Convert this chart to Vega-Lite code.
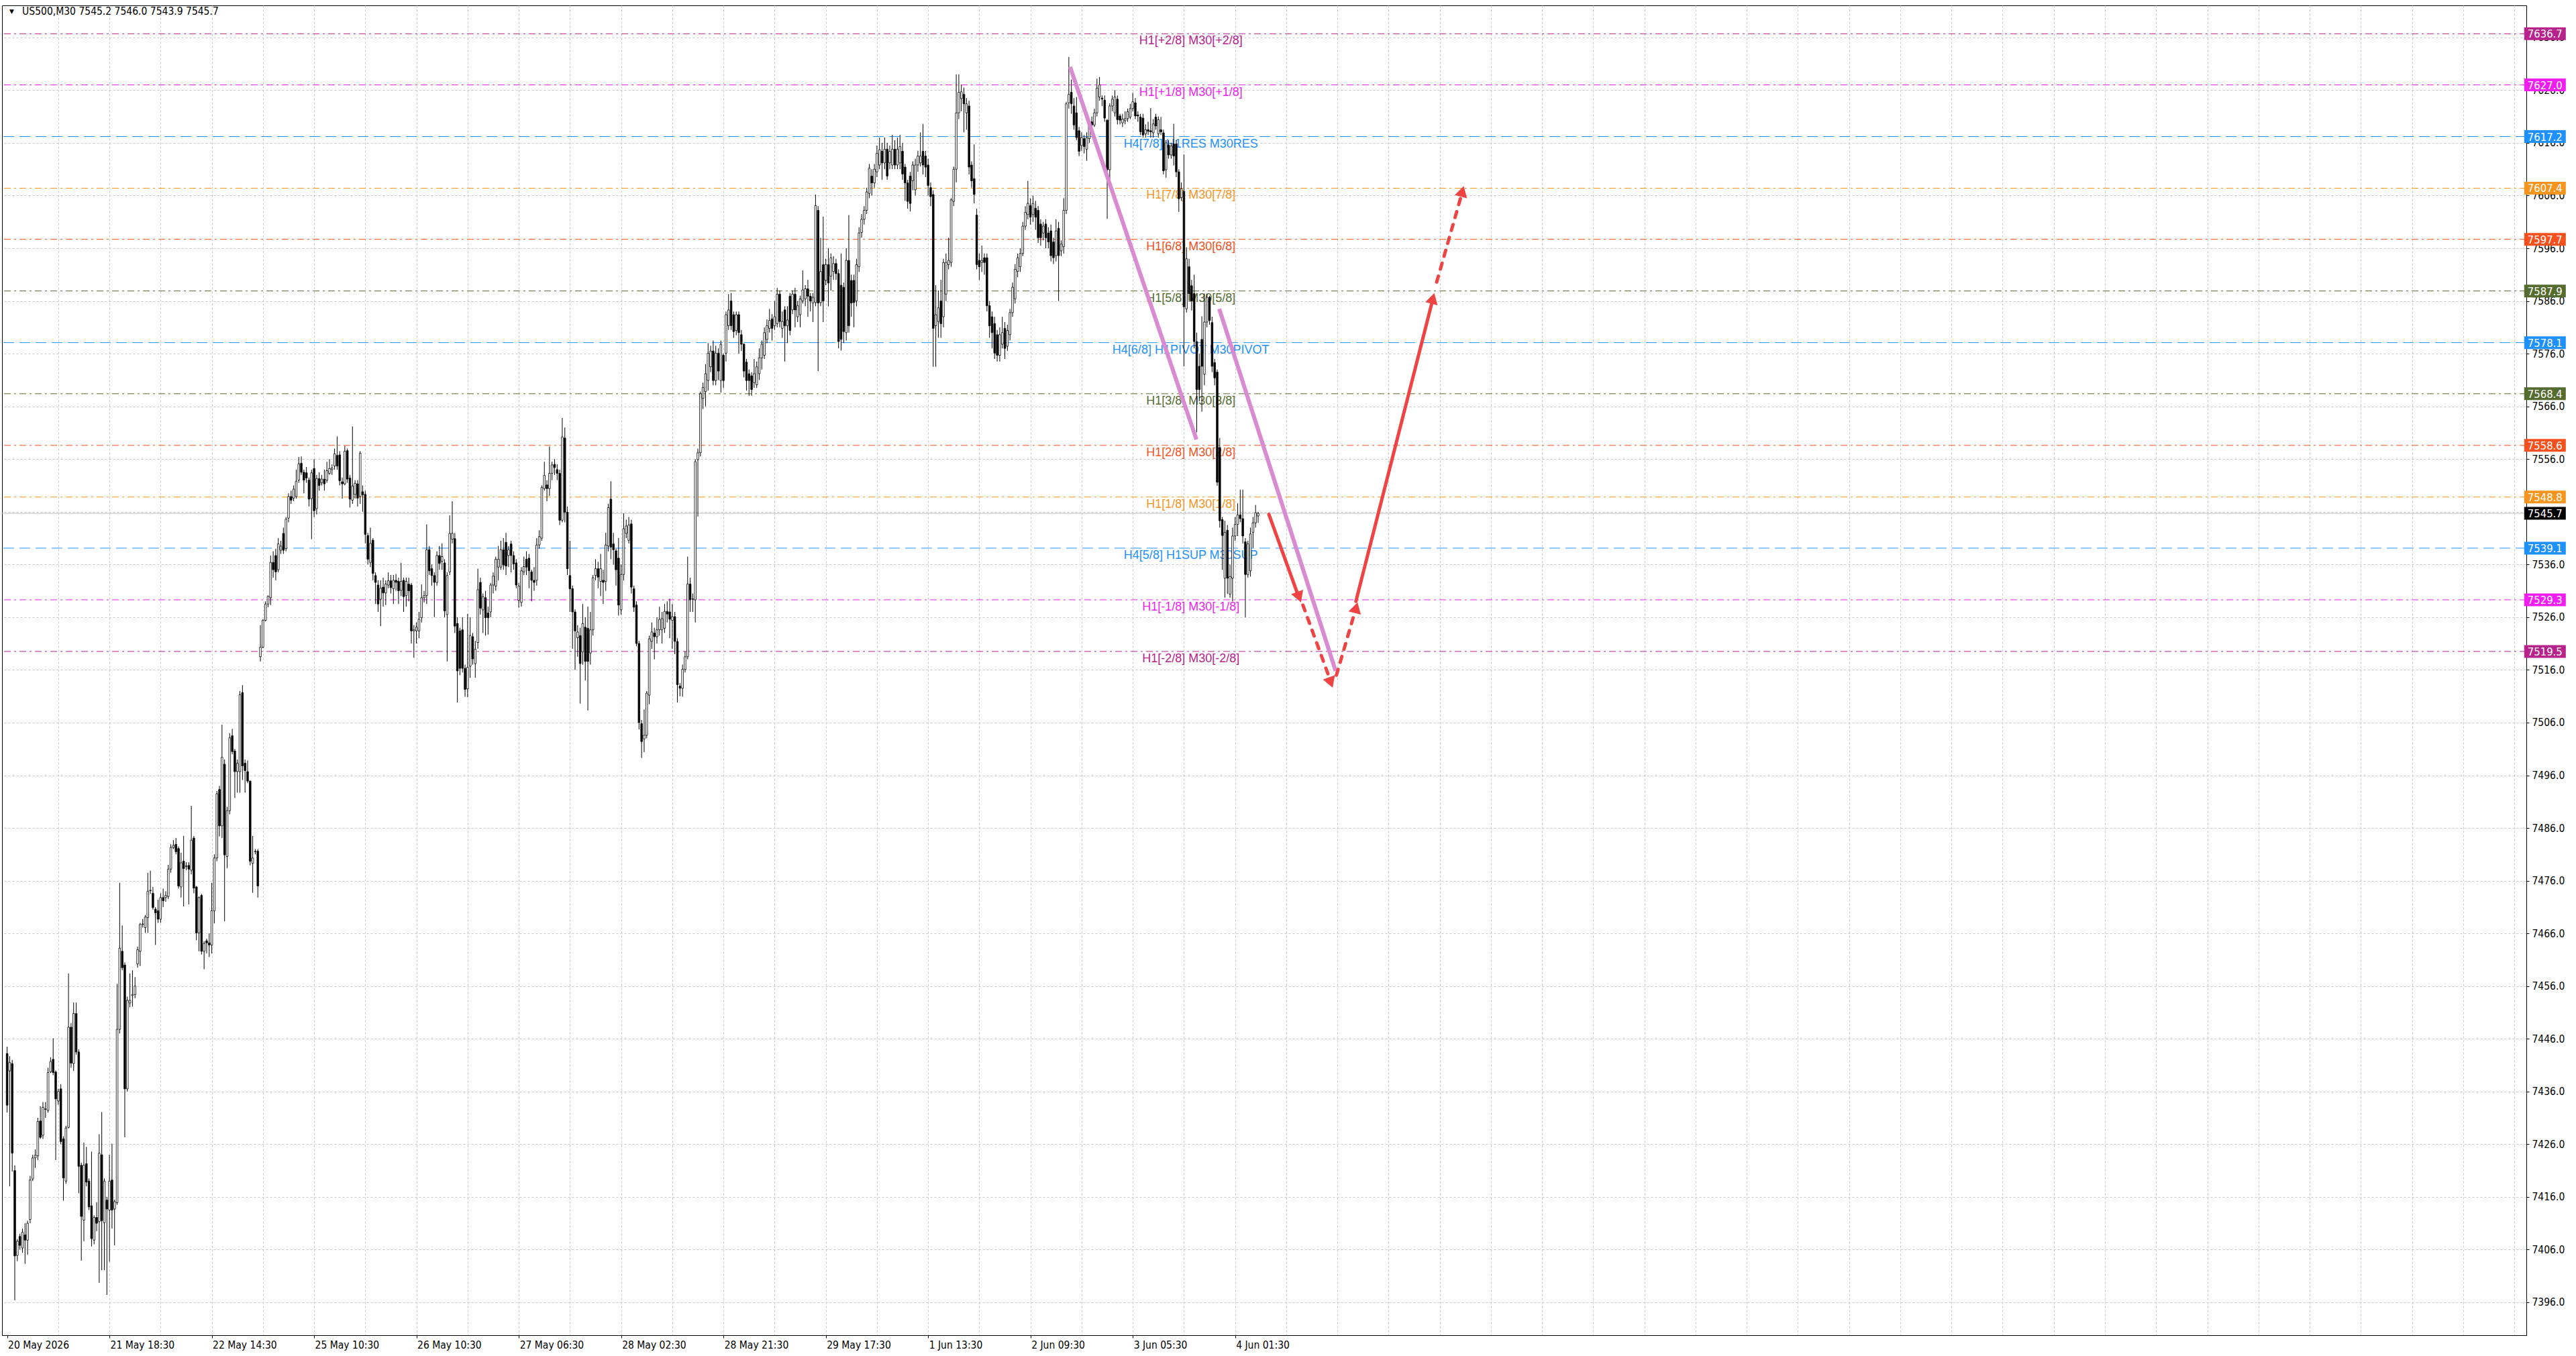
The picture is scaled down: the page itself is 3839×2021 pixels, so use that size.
{
"$schema": "https://vega.github.io/schema/vega-lite/v6.json",
"width": 3762, "height": 1982,
"autosize": {"type": "none"},
"padding": {"left": 3, "top": 8, "right": 74, "bottom": 31},
"background": "#ffffff",
"config": {
 "view": {"stroke": "#000000", "strokeWidth": 1},
 "axis": {"labelFont": "DejaVu Sans Condensed, DejaVu Sans", "labelFontSize": 15.5, "labelColor": "#000000", "domainColor": "#000000", "tickColor": "#000000", "gridColor": "#c8c8c8", "gridDash": [3,3], "gridWidth": 1}
},
"resolve": {"axis": {"x": "independent", "y": "independent"}},
"datasets": {
"levels": [
{"p":7636.7,"g":"p2","t":"H1[+2/8] M30[+2/8]"},
{"p":7627.0,"g":"p1","t":"H1[+1/8] M30[+1/8]"},
{"p":7617.2,"g":"b","t":"H4[7/8] H1RES M30RES"},
{"p":7607.4,"g":"o","t":"H1[7/8] M30[7/8]"},
{"p":7597.7,"g":"r","t":"H1[6/8] M30[6/8]"},
{"p":7587.9,"g":"g","t":"H1[5/8] M30[5/8]"},
{"p":7578.1,"g":"b","t":"H4[6/8] H1PIVOT M30PIVOT"},
{"p":7568.4,"g":"g","t":"H1[3/8] M30[3/8]"},
{"p":7558.6,"g":"r","t":"H1[2/8] M30[2/8]"},
{"p":7548.8,"g":"o","t":"H1[1/8] M30[1/8]"},
{"p":7539.1,"g":"b","t":"H4[5/8] H1SUP M30SUP"},
{"p":7529.3,"g":"p1","t":"H1[-1/8] M30[-1/8]"},
{"p":7519.5,"g":"p2","t":"H1[-2/8] M30[-2/8]"},
{"p":7545.7,"g":"cur","t":""}
],
"pink": [
{"s":"a","i":415.5,"p":7630.4},{"s":"a","i":464.9,"p":7559.7},
{"s":"b","i":473.8,"p":7584.5},{"s":"b","i":519.3,"p":7515.8}
],
"arrows": [
{"s":"a1","k":"solid","i":493.2,"p":7545.5},{"s":"a1","k":"solid","i":504.6,"p":7530.2},
{"s":"a2","k":"dash","i":506.5,"p":7528.3},{"s":"a2","k":"dash","i":517.0,"p":7514.3},
{"s":"a3","k":"dash","i":519.6,"p":7515.0},{"s":"a3","k":"dash","i":526.8,"p":7527.0},
{"s":"a4","k":"solid","i":527.2,"p":7529.0},{"s":"a4","k":"solid","i":557.0,"p":7585.8},
{"s":"a5","k":"dash","i":558.8,"p":7589.6},{"s":"a5","k":"dash","i":568.4,"p":7606.0}
],
"heads": [
{"s":"a1","d":"down","i":505.0,"p":7529.8},
{"s":"a2","d":"down","i":517.4,"p":7513.6},
{"s":"a3","d":"up","i":527.3,"p":7527.8},
{"s":"a4","d":"up","i":557.3,"p":7586.5},
{"s":"a5","d":"up","i":568.8,"p":7606.8}
],
"candles": [
{"i":0,"o":7443.2,"h":7444.5,"l":7432.0,"c":7433.4},
{"i":1,"o":7439.9,"h":7442.7,"l":7418.0,"c":7441.5},
{"i":2,"o":7441.3,"h":7442.0,"l":7420.8,"c":7424.3},
{"i":3,"o":7421.0,"h":7422.0,"l":7396.4,"c":7404.8},
{"i":4,"o":7404.9,"h":7408.0,"l":7403.8,"c":7407.6},
{"i":5,"o":7408.5,"h":7409.0,"l":7406.0,"c":7406.8},
{"i":6,"o":7406.3,"h":7410.0,"l":7405.4,"c":7409.3},
{"i":7,"o":7408.8,"h":7411.0,"l":7403.3,"c":7407.8},
{"i":8,"o":7407.8,"h":7411.5,"l":7405.0,"c":7411.0},
{"i":9,"o":7411.7,"h":7420.0,"l":7411.0,"c":7419.2},
{"i":10,"o":7419.4,"h":7424.0,"l":7419.0,"c":7423.4},
{"i":11,"o":7423.4,"h":7425.0,"l":7421.5,"c":7423.9},
{"i":12,"o":7423.8,"h":7431.0,"l":7423.0,"c":7430.3},
{"i":13,"o":7430.4,"h":7433.2,"l":7427.0,"c":7427.3},
{"i":14,"o":7427.7,"h":7434.0,"l":7427.0,"c":7433.0},
{"i":15,"o":7432.6,"h":7434.0,"l":7431.0,"c":7432.7},
{"i":16,"o":7432.4,"h":7440.5,"l":7432.0,"c":7439.6},
{"i":17,"o":7439.7,"h":7442.5,"l":7439.5,"c":7441.7},
{"i":18,"o":7442.1,"h":7446.1,"l":7439.1,"c":7439.6},
{"i":19,"o":7439.7,"h":7440.0,"l":7423.0,"c":7434.6},
{"i":20,"o":7434.2,"h":7436.5,"l":7433.5,"c":7436.0},
{"i":21,"o":7436.5,"h":7437.4,"l":7426.0,"c":7426.5},
{"i":22,"o":7427.0,"h":7427.5,"l":7415.3,"c":7419.6},
{"i":23,"o":7419.0,"h":7429.5,"l":7418.5,"c":7429.1},
{"i":24,"o":7429.2,"h":7458.4,"l":7429.0,"c":7448.2},
{"i":25,"o":7448.2,"h":7449.0,"l":7440.5,"c":7441.4},
{"i":26,"o":7441.3,"h":7452.9,"l":7439.9,"c":7450.8},
{"i":27,"o":7450.8,"h":7452.9,"l":7443.0,"c":7443.5},
{"i":28,"o":7443.5,"h":7444.0,"l":7416.7,"c":7421.8},
{"i":29,"o":7422.0,"h":7422.5,"l":7403.9,"c":7412.3},
{"i":30,"o":7411.6,"h":7426.3,"l":7407.6,"c":7422.0},
{"i":31,"o":7422.3,"h":7425.5,"l":7418.0,"c":7418.8},
{"i":32,"o":7419.0,"h":7419.5,"l":7413.5,"c":7414.1},
{"i":33,"o":7414.3,"h":7424.6,"l":7406.6,"c":7408.1},
{"i":34,"o":7407.8,"h":7412.5,"l":7407.0,"c":7412.1},
{"i":35,"o":7412.1,"h":7415.0,"l":7409.5,"c":7411.0},
{"i":36,"o":7411.3,"h":7427.9,"l":7399.7,"c":7424.3},
{"i":37,"o":7424.0,"h":7432.1,"l":7402.1,"c":7411.5},
{"i":38,"o":7411.1,"h":7419.5,"l":7402.1,"c":7419.0},
{"i":39,"o":7415.4,"h":7416.0,"l":7397.4,"c":7413.7},
{"i":40,"o":7413.5,"h":7424.0,"l":7403.7,"c":7419.0},
{"i":41,"o":7419.2,"h":7426.1,"l":7410.0,"c":7413.5},
{"i":42,"o":7413.7,"h":7415.5,"l":7406.8,"c":7415.1},
{"i":43,"o":7414.9,"h":7456.4,"l":7414.5,"c":7447.8},
{"i":44,"o":7447.8,"h":7475.6,"l":7447.0,"c":7463.2},
{"i":45,"o":7462.6,"h":7467.5,"l":7459.0,"c":7459.5},
{"i":46,"o":7460.0,"h":7460.5,"l":7427.3,"c":7436.5},
{"i":47,"o":7436.5,"h":7454.0,"l":7436.0,"c":7453.3},
{"i":48,"o":7452.8,"h":7458.4,"l":7452.0,"c":7453.3},
{"i":49,"o":7454.2,"h":7459.0,"l":7452.1,"c":7454.4},
{"i":50,"o":7454.4,"h":7457.7,"l":7453.7,"c":7456.0},
{"i":51,"o":7460.2,"h":7463.5,"l":7459.5,"c":7462.9},
{"i":52,"o":7462.6,"h":7468.0,"l":7459.8,"c":7467.7},
{"i":53,"o":7467.7,"h":7468.7,"l":7467.1,"c":7467.8},
{"i":54,"o":7467.1,"h":7469.5,"l":7466.1,"c":7469.1},
{"i":55,"o":7469.0,"h":7477.5,"l":7466.1,"c":7474.0},
{"i":56,"o":7474.1,"h":7477.9,"l":7473.5,"c":7474.2},
{"i":57,"o":7473.6,"h":7474.8,"l":7470.5,"c":7470.9},
{"i":58,"o":7470.6,"h":7471.0,"l":7463.8,"c":7469.9},
{"i":59,"o":7470.3,"h":7472.4,"l":7468.0,"c":7468.7},
{"i":60,"o":7468.7,"h":7473.6,"l":7468.0,"c":7472.8},
{"i":61,"o":7472.8,"h":7474.5,"l":7471.0,"c":7472.2},
{"i":62,"o":7472.8,"h":7474.0,"l":7472.0,"c":7473.2},
{"i":63,"o":7473.0,"h":7479.0,"l":7472.5,"c":7478.2},
{"i":64,"o":7478.2,"h":7482.9,"l":7477.5,"c":7482.3},
{"i":65,"o":7482.3,"h":7483.7,"l":7482.0,"c":7482.7},
{"i":66,"o":7482.9,"h":7484.1,"l":7481.0,"c":7481.5},
{"i":67,"o":7482.1,"h":7482.5,"l":7474.5,"c":7475.0},
{"i":68,"o":7474.8,"h":7481.3,"l":7472.8,"c":7479.4},
{"i":69,"o":7479.7,"h":7484.5,"l":7471.1,"c":7478.3},
{"i":70,"o":7478.7,"h":7479.5,"l":7478.0,"c":7478.8},
{"i":71,"o":7478.9,"h":7479.5,"l":7471.5,"c":7478.2},
{"i":72,"o":7478.0,"h":7490.2,"l":7477.2,"c":7483.7},
{"i":73,"o":7484.1,"h":7484.5,"l":7473.6,"c":7474.6},
{"i":74,"o":7474.8,"h":7475.0,"l":7464.7,"c":7466.1},
{"i":75,"o":7466.1,"h":7473.0,"l":7462.6,"c":7472.8},
{"i":76,"o":7473.2,"h":7473.5,"l":7462.0,"c":7462.6},
{"i":77,"o":7462.6,"h":7464.5,"l":7459.2,"c":7464.1},
{"i":78,"o":7464.6,"h":7465.0,"l":7462.2,"c":7464.2},
{"i":79,"o":7464.2,"h":7466.0,"l":7461.5,"c":7463.8},
{"i":80,"o":7463.8,"h":7475.6,"l":7462.2,"c":7470.3},
{"i":81,"o":7470.3,"h":7481.0,"l":7467.9,"c":7480.3},
{"i":82,"o":7480.3,"h":7493.0,"l":7479.7,"c":7492.5},
{"i":83,"o":7493.3,"h":7494.0,"l":7484.4,"c":7486.4},
{"i":84,"o":7486.4,"h":7505.6,"l":7484.1,"c":7499.4},
{"i":85,"o":7498.1,"h":7499.0,"l":7468.3,"c":7480.9},
{"i":86,"o":7480.6,"h":7490.0,"l":7478.4,"c":7489.3},
{"i":87,"o":7489.3,"h":7504.0,"l":7488.6,"c":7503.1},
{"i":88,"o":7503.5,"h":7504.8,"l":7500.0,"c":7500.5},
{"i":89,"o":7500.6,"h":7501.0,"l":7491.7,"c":7496.7},
{"i":90,"o":7496.7,"h":7499.0,"l":7492.7,"c":7498.3},
{"i":91,"o":7496.7,"h":7512.0,"l":7492.7,"c":7511.3},
{"i":92,"o":7511.7,"h":7513.1,"l":7495.1,"c":7497.8},
{"i":93,"o":7498.3,"h":7499.0,"l":7492.7,"c":7496.9},
{"i":94,"o":7496.7,"h":7498.8,"l":7494.5,"c":7494.9},
{"i":95,"o":7494.9,"h":7495.0,"l":7478.9,"c":7479.7},
{"i":96,"o":7479.3,"h":7484.5,"l":7473.7,"c":7480.3},
{"i":97,"o":7481.5,"h":7482.0,"l":7481.0,"c":7481.6},
{"i":98,"o":7481.6,"h":7482.0,"l":7472.8,"c":7475.0},
{"i":99,"o":7518.5,"h":7524.5,"l":7517.6,"c":7520.3},
{"i":100,"o":7520.3,"h":7525.6,"l":7520.1,"c":7525.4},
{"i":101,"o":7525.4,"h":7529.0,"l":7525.2,"c":7528.5},
{"i":102,"o":7528.5,"h":7530.1,"l":7527.9,"c":7530.0},
{"i":103,"o":7529.7,"h":7537.7,"l":7528.3,"c":7536.4},
{"i":104,"o":7536.4,"h":7538.5,"l":7533.5,"c":7535.0},
{"i":105,"o":7537.7,"h":7539.0,"l":7533.0,"c":7534.6},
{"i":106,"o":7535.0,"h":7541.0,"l":7534.5,"c":7539.9},
{"i":107,"o":7538.7,"h":7540.5,"l":7538.0,"c":7539.5},
{"i":108,"o":7541.9,"h":7543.0,"l":7538.0,"c":7538.7},
{"i":109,"o":7539.0,"h":7545.0,"l":7538.5,"c":7544.6},
{"i":110,"o":7544.8,"h":7549.5,"l":7544.0,"c":7548.9},
{"i":111,"o":7548.9,"h":7550.0,"l":7547.5,"c":7548.2},
{"i":112,"o":7548.6,"h":7551.0,"l":7548.0,"c":7550.3},
{"i":113,"o":7548.9,"h":7554.0,"l":7548.5,"c":7551.8},
{"i":114,"o":7552.0,"h":7556.4,"l":7551.5,"c":7555.1},
{"i":115,"o":7555.2,"h":7556.5,"l":7553.0,"c":7553.5},
{"i":116,"o":7553.5,"h":7554.0,"l":7549.5,"c":7552.0},
{"i":117,"o":7553.4,"h":7554.5,"l":7551.5,"c":7552.4},
{"i":118,"o":7552.0,"h":7552.5,"l":7547.0,"c":7548.4},
{"i":119,"o":7548.5,"h":7554.0,"l":7540.8,"c":7553.4},
{"i":120,"o":7554.2,"h":7556.0,"l":7545.0,"c":7546.2},
{"i":121,"o":7546.6,"h":7553.0,"l":7545.5,"c":7552.3},
{"i":122,"o":7552.3,"h":7553.5,"l":7550.0,"c":7551.0},
{"i":123,"o":7551.5,"h":7553.0,"l":7551.0,"c":7552.2},
{"i":124,"o":7552.2,"h":7554.0,"l":7550.0,"c":7551.3},
{"i":125,"o":7552.0,"h":7555.5,"l":7551.5,"c":7553.8},
{"i":126,"o":7553.3,"h":7556.0,"l":7553.0,"c":7554.2},
{"i":127,"o":7554.0,"h":7555.0,"l":7553.0,"c":7554.3},
{"i":128,"o":7554.7,"h":7558.0,"l":7554.0,"c":7557.0},
{"i":129,"o":7556.7,"h":7560.3,"l":7554.0,"c":7554.7},
{"i":130,"o":7556.8,"h":7557.5,"l":7551.0,"c":7551.9},
{"i":131,"o":7551.7,"h":7552.5,"l":7548.5,"c":7551.3},
{"i":132,"o":7551.3,"h":7558.5,"l":7551.0,"c":7557.5},
{"i":133,"o":7557.6,"h":7558.0,"l":7551.5,"c":7552.2},
{"i":134,"o":7552.4,"h":7553.0,"l":7546.8,"c":7548.4},
{"i":135,"o":7548.2,"h":7562.2,"l":7547.5,"c":7550.9},
{"i":136,"o":7549.3,"h":7552.0,"l":7548.5,"c":7551.4},
{"i":137,"o":7551.3,"h":7552.0,"l":7547.0,"c":7548.6},
{"i":138,"o":7548.9,"h":7557.5,"l":7547.5,"c":7557.1},
{"i":139,"o":7549.8,"h":7551.0,"l":7546.0,"c":7549.2},
{"i":140,"o":7549.3,"h":7550.0,"l":7540.0,"c":7541.7},
{"i":141,"o":7541.5,"h":7542.0,"l":7536.0,"c":7537.0},
{"i":142,"o":7536.4,"h":7543.0,"l":7535.5,"c":7540.0},
{"i":143,"o":7540.6,"h":7541.0,"l":7533.0,"c":7534.3},
{"i":144,"o":7533.9,"h":7534.5,"l":7528.5,"c":7532.6},
{"i":145,"o":7532.1,"h":7533.0,"l":7527.0,"c":7528.5},
{"i":146,"o":7529.4,"h":7533.0,"l":7524.3,"c":7531.5},
{"i":147,"o":7531.7,"h":7533.5,"l":7528.0,"c":7530.6},
{"i":148,"o":7530.6,"h":7533.0,"l":7528.3,"c":7532.3},
{"i":149,"o":7532.1,"h":7534.5,"l":7531.5,"c":7532.9},
{"i":150,"o":7532.9,"h":7534.0,"l":7530.5,"c":7531.6},
{"i":151,"o":7531.4,"h":7534.0,"l":7528.5,"c":7533.0},
{"i":152,"o":7533.0,"h":7534.2,"l":7531.0,"c":7532.6},
{"i":153,"o":7532.8,"h":7533.5,"l":7528.5,"c":7531.0},
{"i":154,"o":7531.1,"h":7536.3,"l":7530.0,"c":7532.8},
{"i":155,"o":7533.0,"h":7533.5,"l":7527.0,"c":7529.9},
{"i":156,"o":7530.1,"h":7533.5,"l":7528.0,"c":7532.8},
{"i":157,"o":7532.3,"h":7533.5,"l":7529.0,"c":7531.0},
{"i":158,"o":7532.1,"h":7532.5,"l":7521.0,"c":7523.4},
{"i":159,"o":7523.4,"h":7524.5,"l":7518.3,"c":7523.6},
{"i":160,"o":7523.4,"h":7525.0,"l":7521.0,"c":7524.1},
{"i":161,"o":7523.4,"h":7527.0,"l":7522.0,"c":7525.6},
{"i":162,"o":7525.9,"h":7532.2,"l":7525.0,"c":7529.7},
{"i":163,"o":7529.7,"h":7531.0,"l":7528.8,"c":7530.1},
{"i":164,"o":7530.1,"h":7543.6,"l":7528.5,"c":7538.8},
{"i":165,"o":7538.8,"h":7539.5,"l":7534.0,"c":7534.8},
{"i":166,"o":7535.2,"h":7536.0,"l":7532.0,"c":7533.9},
{"i":167,"o":7533.9,"h":7534.5,"l":7526.0,"c":7532.6},
{"i":168,"o":7532.6,"h":7538.5,"l":7532.0,"c":7537.7},
{"i":169,"o":7537.7,"h":7539.5,"l":7535.0,"c":7536.2},
{"i":170,"o":7536.6,"h":7540.0,"l":7535.0,"c":7537.5},
{"i":171,"o":7536.3,"h":7537.0,"l":7526.0,"c":7527.2},
{"i":172,"o":7526.5,"h":7534.5,"l":7517.6,"c":7533.9},
{"i":173,"o":7534.6,"h":7545.3,"l":7534.0,"c":7541.9},
{"i":174,"o":7540.8,"h":7548.0,"l":7540.0,"c":7541.9},
{"i":175,"o":7540.9,"h":7542.0,"l":7523.0,"c":7524.3},
{"i":176,"o":7524.8,"h":7526.0,"l":7509.8,"c":7515.8},
{"i":177,"o":7523.4,"h":7524.0,"l":7515.0,"c":7516.3},
{"i":178,"o":7523.6,"h":7526.0,"l":7515.5,"c":7516.3},
{"i":179,"o":7516.3,"h":7517.0,"l":7510.9,"c":7512.3},
{"i":180,"o":7512.4,"h":7526.6,"l":7510.8,"c":7516.5},
{"i":181,"o":7516.7,"h":7526.0,"l":7514.5,"c":7522.5},
{"i":182,"o":7522.3,"h":7523.0,"l":7517.0,"c":7518.1},
{"i":183,"o":7517.2,"h":7521.5,"l":7514.5,"c":7519.9},
{"i":184,"o":7521.2,"h":7535.2,"l":7520.0,"c":7531.2},
{"i":185,"o":7532.6,"h":7533.5,"l":7526.5,"c":7527.7},
{"i":186,"o":7527.4,"h":7530.5,"l":7523.0,"c":7529.9},
{"i":187,"o":7529.7,"h":7531.0,"l":7522.5,"c":7525.9},
{"i":188,"o":7526.8,"h":7528.0,"l":7522.7,"c":7525.9},
{"i":189,"o":7527.0,"h":7532.5,"l":7526.0,"c":7532.1},
{"i":190,"o":7532.1,"h":7534.5,"l":7530.5,"c":7533.8},
{"i":191,"o":7531.9,"h":7537.5,"l":7531.0,"c":7537.0},
{"i":192,"o":7535.5,"h":7539.5,"l":7533.0,"c":7537.0},
{"i":193,"o":7535.5,"h":7540.5,"l":7535.0,"c":7538.8},
{"i":194,"o":7538.8,"h":7541.0,"l":7535.0,"c":7535.9},
{"i":195,"o":7540.2,"h":7542.0,"l":7534.0,"c":7535.7},
{"i":196,"o":7537.7,"h":7539.5,"l":7535.5,"c":7538.8},
{"i":197,"o":7539.9,"h":7540.5,"l":7534.5,"c":7537.7},
{"i":198,"o":7537.7,"h":7538.5,"l":7535.0,"c":7536.1},
{"i":199,"o":7536.3,"h":7537.0,"l":7531.5,"c":7532.1},
{"i":200,"o":7529.2,"h":7532.5,"l":7527.8,"c":7531.9},
{"i":201,"o":7528.8,"h":7535.5,"l":7528.0,"c":7534.8},
{"i":202,"o":7534.6,"h":7537.5,"l":7534.0,"c":7535.6},
{"i":203,"o":7537.0,"h":7538.5,"l":7534.0,"c":7535.5},
{"i":204,"o":7537.2,"h":7538.0,"l":7531.5,"c":7534.8},
{"i":205,"o":7534.6,"h":7535.0,"l":7529.0,"c":7533.0},
{"i":206,"o":7533.0,"h":7535.5,"l":7531.0,"c":7532.6},
{"i":207,"o":7533.0,"h":7541.0,"l":7532.0,"c":7539.7},
{"i":208,"o":7539.7,"h":7542.5,"l":7539.0,"c":7541.3},
{"i":209,"o":7541.0,"h":7551.0,"l":7540.5,"c":7550.6},
{"i":210,"o":7550.4,"h":7555.5,"l":7550.0,"c":7552.9},
{"i":211,"o":7551.1,"h":7552.0,"l":7548.0,"c":7550.4},
{"i":212,"o":7550.4,"h":7558.4,"l":7549.0,"c":7553.3},
{"i":213,"o":7553.3,"h":7555.5,"l":7552.0,"c":7554.9},
{"i":214,"o":7555.0,"h":7556.0,"l":7553.0,"c":7554.4},
{"i":215,"o":7554.0,"h":7555.0,"l":7552.0,"c":7553.3},
{"i":216,"o":7553.3,"h":7554.0,"l":7543.5,"c":7544.4},
{"i":217,"o":7544.4,"h":7563.8,"l":7544.0,"c":7560.2},
{"i":218,"o":7560.0,"h":7562.0,"l":7544.0,"c":7545.9},
{"i":219,"o":7545.9,"h":7547.0,"l":7534.0,"c":7535.2},
{"i":220,"o":7533.9,"h":7540.5,"l":7527.0,"c":7531.4},
{"i":221,"o":7531.4,"h":7532.0,"l":7520.0,"c":7527.0},
{"i":222,"o":7527.0,"h":7527.5,"l":7516.0,"c":7523.4},
{"i":223,"o":7522.1,"h":7524.5,"l":7518.5,"c":7523.2},
{"i":224,"o":7522.5,"h":7524.0,"l":7509.6,"c":7517.2},
{"i":225,"o":7519.4,"h":7528.5,"l":7517.0,"c":7524.8},
{"i":226,"o":7524.1,"h":7526.0,"l":7514.0,"c":7517.6},
{"i":227,"o":7523.9,"h":7528.0,"l":7508.3,"c":7517.6},
{"i":228,"o":7519.2,"h":7527.0,"l":7517.0,"c":7523.6},
{"i":229,"o":7523.6,"h":7534.0,"l":7522.5,"c":7533.5},
{"i":230,"o":7533.9,"h":7537.0,"l":7533.0,"c":7535.2},
{"i":231,"o":7535.2,"h":7536.5,"l":7531.5,"c":7533.6},
{"i":232,"o":7532.8,"h":7538.0,"l":7530.0,"c":7535.2},
{"i":233,"o":7533.0,"h":7535.0,"l":7528.5,"c":7532.6},
{"i":234,"o":7532.8,"h":7542.0,"l":7531.0,"c":7539.7},
{"i":235,"o":7539.5,"h":7547.5,"l":7538.5,"c":7546.8},
{"i":236,"o":7548.4,"h":7551.8,"l":7537.0,"c":7539.3},
{"i":237,"o":7539.9,"h":7542.0,"l":7536.0,"c":7538.8},
{"i":238,"o":7538.6,"h":7539.0,"l":7532.0,"c":7535.0},
{"i":239,"o":7537.2,"h":7541.0,"l":7526.3,"c":7528.3},
{"i":240,"o":7527.4,"h":7536.0,"l":7526.5,"c":7534.1},
{"i":241,"o":7534.1,"h":7545.7,"l":7533.0,"c":7542.8},
{"i":242,"o":7541.9,"h":7544.5,"l":7541.0,"c":7543.3},
{"i":243,"o":7540.6,"h":7545.0,"l":7540.0,"c":7543.5},
{"i":244,"o":7543.7,"h":7544.5,"l":7530.5,"c":7531.7},
{"i":245,"o":7531.4,"h":7532.0,"l":7527.0,"c":7527.9},
{"i":246,"o":7528.3,"h":7529.0,"l":7520.5,"c":7521.0},
{"i":247,"o":7521.0,"h":7521.5,"l":7504.7,"c":7506.0},
{"i":248,"o":7505.8,"h":7506.5,"l":7499.3,"c":7502.4},
{"i":249,"o":7502.9,"h":7508.5,"l":7500.4,"c":7503.6},
{"i":250,"o":7503.6,"h":7512.0,"l":7503.0,"c":7511.6},
{"i":251,"o":7511.2,"h":7522.5,"l":7509.5,"c":7521.9},
{"i":252,"o":7521.4,"h":7525.0,"l":7520.0,"c":7523.2},
{"i":253,"o":7523.0,"h":7524.0,"l":7518.0,"c":7522.3},
{"i":254,"o":7522.3,"h":7526.0,"l":7521.0,"c":7523.6},
{"i":255,"o":7523.6,"h":7528.0,"l":7522.5,"c":7525.6},
{"i":256,"o":7523.6,"h":7527.0,"l":7521.0,"c":7525.7},
{"i":257,"o":7523.9,"h":7528.5,"l":7523.0,"c":7527.1},
{"i":258,"o":7527.1,"h":7529.0,"l":7525.0,"c":7526.6},
{"i":259,"o":7527.0,"h":7529.5,"l":7522.0,"c":7525.6},
{"i":260,"o":7525.4,"h":7528.5,"l":7520.0,"c":7526.1},
{"i":261,"o":7526.1,"h":7527.0,"l":7519.0,"c":7521.4},
{"i":262,"o":7521.4,"h":7522.0,"l":7509.8,"c":7513.2},
{"i":263,"o":7512.9,"h":7513.5,"l":7511.0,"c":7512.5},
{"i":264,"o":7512.5,"h":7517.0,"l":7510.9,"c":7516.1},
{"i":265,"o":7516.1,"h":7519.5,"l":7515.5,"c":7518.5},
{"i":266,"o":7518.5,"h":7537.5,"l":7518.0,"c":7532.3},
{"i":267,"o":7532.3,"h":7533.5,"l":7527.0,"c":7529.3},
{"i":268,"o":7529.4,"h":7530.5,"l":7527.0,"c":7529.5},
{"i":269,"o":7529.3,"h":7556.0,"l":7525.0,"c":7555.5},
{"i":270,"o":7555.9,"h":7558.0,"l":7545.1,"c":7557.2},
{"i":271,"o":7557.2,"h":7568.8,"l":7556.5,"c":7568.4},
{"i":272,"o":7567.5,"h":7570.5,"l":7565.5,"c":7569.6},
{"i":273,"o":7568.8,"h":7574.0,"l":7566.0,"c":7572.2},
{"i":274,"o":7570.9,"h":7578.0,"l":7569.0,"c":7576.1},
{"i":275,"o":7573.5,"h":7577.5,"l":7572.5,"c":7576.5},
{"i":276,"o":7576.5,"h":7578.5,"l":7570.0,"c":7570.9},
{"i":277,"o":7570.9,"h":7577.5,"l":7570.0,"c":7576.1},
{"i":278,"o":7576.1,"h":7577.0,"l":7571.0,"c":7572.7},
{"i":279,"o":7570.9,"h":7578.5,"l":7568.6,"c":7577.8},
{"i":280,"o":7575.7,"h":7576.0,"l":7569.5,"c":7570.9},
{"i":281,"o":7576.1,"h":7584.0,"l":7574.5,"c":7583.4},
{"i":282,"o":7581.3,"h":7587.3,"l":7580.5,"c":7584.3},
{"i":283,"o":7586.0,"h":7587.5,"l":7580.5,"c":7581.3},
{"i":284,"o":7583.4,"h":7584.0,"l":7579.0,"c":7580.2},
{"i":285,"o":7580.4,"h":7584.0,"l":7579.5,"c":7583.4},
{"i":286,"o":7583.4,"h":7584.0,"l":7576.0,"c":7580.0},
{"i":287,"o":7579.6,"h":7580.5,"l":7576.5,"c":7577.8},
{"i":288,"o":7577.8,"h":7578.0,"l":7571.5,"c":7572.7},
{"i":289,"o":7574.4,"h":7575.0,"l":7569.0,"c":7570.9},
{"i":290,"o":7572.2,"h":7573.0,"l":7568.0,"c":7570.9},
{"i":291,"o":7571.8,"h":7572.5,"l":7568.0,"c":7569.2},
{"i":292,"o":7570.5,"h":7575.0,"l":7569.5,"c":7572.2},
{"i":293,"o":7570.1,"h":7574.5,"l":7569.5,"c":7573.5},
{"i":294,"o":7572.2,"h":7577.0,"l":7571.0,"c":7575.2},
{"i":295,"o":7575.2,"h":7578.5,"l":7573.0,"c":7577.8},
{"i":296,"o":7575.7,"h":7581.0,"l":7575.0,"c":7580.0},
{"i":297,"o":7578.7,"h":7582.5,"l":7578.0,"c":7581.3},
{"i":298,"o":7580.8,"h":7584.5,"l":7580.0,"c":7582.3},
{"i":299,"o":7582.6,"h":7583.5,"l":7578.5,"c":7580.8},
{"i":300,"o":7581.3,"h":7586.0,"l":7580.5,"c":7583.0},
{"i":301,"o":7581.7,"h":7588.5,"l":7581.0,"c":7587.3},
{"i":302,"o":7587.3,"h":7588.0,"l":7581.0,"c":7582.1},
{"i":303,"o":7580.8,"h":7584.0,"l":7579.0,"c":7582.1},
{"i":304,"o":7584.3,"h":7585.0,"l":7574.5,"c":7581.3},
{"i":305,"o":7581.3,"h":7585.0,"l":7578.0,"c":7582.4},
{"i":306,"o":7586.9,"h":7587.5,"l":7579.5,"c":7580.4},
{"i":307,"o":7584.3,"h":7588.0,"l":7583.5,"c":7587.3},
{"i":308,"o":7587.3,"h":7588.5,"l":7581.0,"c":7584.3},
{"i":309,"o":7583.0,"h":7586.0,"l":7582.0,"c":7585.1},
{"i":310,"o":7583.4,"h":7587.0,"l":7581.0,"c":7586.4},
{"i":311,"o":7586.0,"h":7591.8,"l":7585.5,"c":7588.1},
{"i":312,"o":7586.4,"h":7589.0,"l":7585.0,"c":7588.3},
{"i":313,"o":7588.3,"h":7590.0,"l":7583.0,"c":7586.9},
{"i":314,"o":7586.9,"h":7587.5,"l":7584.0,"c":7586.0},
{"i":315,"o":7585.6,"h":7587.5,"l":7582.0,"c":7586.7},
{"i":316,"o":7585.7,"h":7606.2,"l":7585.0,"c":7604.1},
{"i":317,"o":7603.2,"h":7604.0,"l":7572.7,"c":7585.6},
{"i":318,"o":7585.7,"h":7598.0,"l":7585.0,"c":7591.6},
{"i":319,"o":7592.9,"h":7602.0,"l":7582.0,"c":7586.0},
{"i":320,"o":7589.9,"h":7594.0,"l":7589.0,"c":7592.9},
{"i":321,"o":7592.9,"h":7596.0,"l":7585.0,"c":7589.4},
{"i":322,"o":7590.7,"h":7595.0,"l":7588.0,"c":7594.2},
{"i":323,"o":7591.6,"h":7594.5,"l":7590.0,"c":7593.1},
{"i":324,"o":7593.1,"h":7594.0,"l":7590.0,"c":7591.2},
{"i":325,"o":7591.2,"h":7592.0,"l":7577.0,"c":7578.3},
{"i":326,"o":7589.0,"h":7595.0,"l":7576.6,"c":7578.7},
{"i":327,"o":7588.6,"h":7589.5,"l":7578.0,"c":7580.2},
{"i":328,"o":7580.0,"h":7596.0,"l":7578.5,"c":7593.7},
{"i":329,"o":7593.7,"h":7602.3,"l":7580.0,"c":7581.3},
{"i":330,"o":7589.9,"h":7591.0,"l":7583.0,"c":7585.6},
{"i":331,"o":7589.9,"h":7591.0,"l":7581.0,"c":7585.7},
{"i":332,"o":7586.0,"h":7594.0,"l":7585.0,"c":7592.9},
{"i":333,"o":7592.5,"h":7600.0,"l":7591.5,"c":7598.9},
{"i":334,"o":7599.0,"h":7602.5,"l":7598.0,"c":7601.5},
{"i":335,"o":7601.5,"h":7604.0,"l":7600.5,"c":7603.2},
{"i":336,"o":7603.2,"h":7607.5,"l":7602.5,"c":7606.7},
{"i":337,"o":7606.4,"h":7612.0,"l":7605.5,"c":7611.2},
{"i":338,"o":7609.7,"h":7611.0,"l":7606.0,"c":7608.4},
{"i":339,"o":7608.4,"h":7612.0,"l":7607.5,"c":7611.0},
{"i":340,"o":7610.5,"h":7615.5,"l":7609.5,"c":7614.0},
{"i":341,"o":7611.8,"h":7617.0,"l":7611.0,"c":7614.7},
{"i":342,"o":7614.4,"h":7616.0,"l":7609.0,"c":7612.2},
{"i":343,"o":7612.2,"h":7617.0,"l":7611.0,"c":7614.8},
{"i":344,"o":7614.8,"h":7616.0,"l":7609.0,"c":7609.7},
{"i":345,"o":7612.2,"h":7615.5,"l":7611.0,"c":7614.4},
{"i":346,"o":7611.8,"h":7617.5,"l":7611.0,"c":7614.8},
{"i":347,"o":7614.8,"h":7616.5,"l":7611.0,"c":7611.8},
{"i":348,"o":7611.8,"h":7617.0,"l":7611.0,"c":7614.8},
{"i":349,"o":7612.2,"h":7617.5,"l":7611.0,"c":7615.3},
{"i":350,"o":7614.4,"h":7616.0,"l":7609.0,"c":7610.1},
{"i":351,"o":7611.4,"h":7612.0,"l":7605.0,"c":7608.4},
{"i":352,"o":7608.4,"h":7609.0,"l":7603.5,"c":7604.9},
{"i":353,"o":7609.7,"h":7610.5,"l":7603.0,"c":7604.5},
{"i":354,"o":7608.8,"h":7612.5,"l":7607.0,"c":7611.8},
{"i":355,"o":7607.1,"h":7613.0,"l":7606.0,"c":7611.8},
{"i":356,"o":7611.8,"h":7614.5,"l":7610.5,"c":7613.5},
{"i":357,"o":7612.2,"h":7618.0,"l":7611.5,"c":7613.5},
{"i":358,"o":7614.4,"h":7619.6,"l":7610.0,"c":7611.8},
{"i":359,"o":7613.5,"h":7614.5,"l":7609.5,"c":7611.4},
{"i":360,"o":7611.8,"h":7613.0,"l":7606.0,"c":7607.9},
{"i":361,"o":7607.5,"h":7608.5,"l":7604.0,"c":7605.8},
{"i":362,"o":7606.2,"h":7607.0,"l":7573.5,"c":7580.8},
{"i":363,"o":7581.3,"h":7589.0,"l":7573.5,"c":7583.4},
{"i":364,"o":7582.1,"h":7588.0,"l":7579.0,"c":7584.7},
{"i":365,"o":7586.0,"h":7590.0,"l":7579.0,"c":7581.7},
{"i":366,"o":7583.0,"h":7594.0,"l":7581.0,"c":7593.3},
{"i":367,"o":7587.3,"h":7595.0,"l":7586.0,"c":7593.3},
{"i":368,"o":7592.9,"h":7598.0,"l":7592.0,"c":7593.7},
{"i":369,"o":7593.3,"h":7605.5,"l":7592.5,"c":7605.2},
{"i":370,"o":7604.9,"h":7611.5,"l":7604.0,"c":7611.0},
{"i":371,"o":7611.0,"h":7629.0,"l":7608.5,"c":7621.7},
{"i":372,"o":7621.7,"h":7629.0,"l":7620.5,"c":7625.6},
{"i":373,"o":7624.4,"h":7627.0,"l":7622.0,"c":7625.7},
{"i":374,"o":7625.2,"h":7626.5,"l":7618.0,"c":7623.4},
{"i":375,"o":7621.7,"h":7624.5,"l":7618.5,"c":7623.4},
{"i":376,"o":7623.0,"h":7624.0,"l":7610.0,"c":7611.4},
{"i":377,"o":7611.8,"h":7612.5,"l":7607.5,"c":7608.8},
{"i":378,"o":7609.2,"h":7615.7,"l":7604.5,"c":7606.2},
{"i":379,"o":7602.3,"h":7603.5,"l":7592.0,"c":7592.9},
{"i":380,"o":7593.7,"h":7595.0,"l":7590.0,"c":7592.5},
{"i":381,"o":7593.3,"h":7596.5,"l":7591.5,"c":7593.7},
{"i":382,"o":7594.2,"h":7595.0,"l":7591.0,"c":7593.3},
{"i":383,"o":7594.2,"h":7595.0,"l":7584.0,"c":7585.1},
{"i":384,"o":7585.1,"h":7586.0,"l":7579.0,"c":7581.3},
{"i":385,"o":7583.0,"h":7584.0,"l":7577.0,"c":7580.0},
{"i":386,"o":7581.7,"h":7583.0,"l":7575.0,"c":7576.1},
{"i":387,"o":7579.6,"h":7580.5,"l":7574.5,"c":7575.7},
{"i":388,"o":7575.7,"h":7581.0,"l":7574.5,"c":7579.6},
{"i":389,"o":7577.8,"h":7583.0,"l":7577.0,"c":7580.0},
{"i":390,"o":7580.8,"h":7582.0,"l":7575.0,"c":7577.0},
{"i":391,"o":7577.4,"h":7581.5,"l":7576.5,"c":7580.4},
{"i":392,"o":7579.6,"h":7584.5,"l":7578.5,"c":7583.8},
{"i":393,"o":7583.8,"h":7589.5,"l":7583.0,"c":7588.6},
{"i":394,"o":7586.4,"h":7593.0,"l":7585.5,"c":7592.0},
{"i":395,"o":7591.6,"h":7595.0,"l":7590.5,"c":7594.2},
{"i":396,"o":7592.5,"h":7596.0,"l":7591.5,"c":7595.0},
{"i":397,"o":7595.0,"h":7601.0,"l":7594.5,"c":7600.2},
{"i":398,"o":7600.2,"h":7604.0,"l":7599.5,"c":7602.8},
{"i":399,"o":7602.4,"h":7608.8,"l":7601.5,"c":7604.5},
{"i":400,"o":7604.1,"h":7605.5,"l":7600.5,"c":7601.9},
{"i":401,"o":7602.4,"h":7606.0,"l":7601.0,"c":7604.5},
{"i":402,"o":7603.6,"h":7605.0,"l":7599.5,"c":7601.9},
{"i":403,"o":7603.2,"h":7604.0,"l":7597.0,"c":7598.0},
{"i":404,"o":7600.6,"h":7601.5,"l":7596.5,"c":7598.0},
{"i":405,"o":7598.9,"h":7601.0,"l":7597.5,"c":7600.2},
{"i":406,"o":7600.6,"h":7601.5,"l":7596.0,"c":7598.0},
{"i":407,"o":7598.9,"h":7600.0,"l":7596.0,"c":7597.2},
{"i":408,"o":7599.3,"h":7600.5,"l":7593.5,"c":7594.6},
{"i":409,"o":7597.2,"h":7598.0,"l":7593.0,"c":7594.2},
{"i":410,"o":7594.6,"h":7601.5,"l":7593.5,"c":7599.3},
{"i":411,"o":7599.8,"h":7601.0,"l":7586.0,"c":7594.6},
{"i":412,"o":7595.5,"h":7597.5,"l":7594.5,"c":7596.8},
{"i":413,"o":7596.3,"h":7605.5,"l":7595.0,"c":7603.2},
{"i":414,"o":7603.2,"h":7623.8,"l":7602.5,"c":7623.4},
{"i":415,"o":7623.6,"h":7632.3,"l":7622.5,"c":7625.2},
{"i":416,"o":7625.6,"h":7628.0,"l":7621.5,"c":7623.4},
{"i":417,"o":7623.0,"h":7624.5,"l":7618.5,"c":7619.4},
{"i":418,"o":7621.7,"h":7624.7,"l":7616.5,"c":7617.0},
{"i":419,"o":7618.3,"h":7619.0,"l":7613.5,"c":7614.4},
{"i":420,"o":7615.5,"h":7618.0,"l":7614.5,"c":7617.0},
{"i":421,"o":7616.8,"h":7617.5,"l":7614.0,"c":7615.3},
{"i":422,"o":7614.8,"h":7618.0,"l":7612.6,"c":7617.0},
{"i":423,"o":7616.8,"h":7620.5,"l":7616.0,"c":7620.0},
{"i":424,"o":7620.0,"h":7621.0,"l":7618.5,"c":7619.4},
{"i":425,"o":7619.4,"h":7622.5,"l":7619.0,"c":7621.7},
{"i":426,"o":7621.7,"h":7628.2,"l":7621.0,"c":7626.4},
{"i":427,"o":7624.7,"h":7628.5,"l":7624.0,"c":7627.0},
{"i":428,"o":7624.5,"h":7625.0,"l":7623.0,"c":7624.3},
{"i":429,"o":7624.1,"h":7625.0,"l":7620.0,"c":7620.7},
{"i":430,"o":7620.3,"h":7620.5,"l":7601.6,"c":7610.9},
{"i":431,"o":7610.9,"h":7623.5,"l":7609.0,"c":7623.0},
{"i":432,"o":7623.0,"h":7625.0,"l":7622.0,"c":7624.3},
{"i":433,"o":7621.7,"h":7626.0,"l":7621.0,"c":7624.7},
{"i":434,"o":7624.3,"h":7625.0,"l":7619.5,"c":7620.4},
{"i":435,"o":7621.1,"h":7621.5,"l":7619.5,"c":7620.3},
{"i":436,"o":7619.8,"h":7621.5,"l":7619.0,"c":7620.5},
{"i":437,"o":7620.2,"h":7622.0,"l":7619.5,"c":7620.6},
{"i":438,"o":7620.6,"h":7622.5,"l":7620.0,"c":7621.9},
{"i":439,"o":7620.9,"h":7623.4,"l":7620.5,"c":7622.5},
{"i":440,"o":7622.5,"h":7625.5,"l":7622.0,"c":7623.8},
{"i":441,"o":7623.6,"h":7624.5,"l":7620.5,"c":7621.1},
{"i":442,"o":7621.3,"h":7622.0,"l":7620.0,"c":7621.1},
{"i":443,"o":7620.9,"h":7621.5,"l":7617.5,"c":7618.1},
{"i":444,"o":7620.7,"h":7621.5,"l":7617.0,"c":7617.5},
{"i":445,"o":7617.7,"h":7619.5,"l":7617.0,"c":7618.5},
{"i":446,"o":7618.5,"h":7620.0,"l":7617.5,"c":7618.2},
{"i":447,"o":7618.3,"h":7622.6,"l":7617.0,"c":7618.1},
{"i":448,"o":7617.9,"h":7620.5,"l":7617.0,"c":7619.6},
{"i":449,"o":7620.9,"h":7621.5,"l":7618.5,"c":7619.2},
{"i":450,"o":7617.7,"h":7621.0,"l":7617.0,"c":7620.4},
{"i":451,"o":7618.5,"h":7620.9,"l":7617.5,"c":7618.1},
{"i":452,"o":7617.9,"h":7618.5,"l":7610.0,"c":7610.7},
{"i":453,"o":7610.9,"h":7616.5,"l":7609.4,"c":7616.0},
{"i":454,"o":7615.6,"h":7616.5,"l":7613.0,"c":7613.7},
{"i":455,"o":7613.7,"h":7616.0,"l":7613.0,"c":7615.4},
{"i":456,"o":7615.8,"h":7619.6,"l":7611.7,"c":7613.5},
{"i":457,"o":7615.8,"h":7616.5,"l":7609.5,"c":7610.5},
{"i":458,"o":7610.5,"h":7611.0,"l":7602.9,"c":7605.4},
{"i":459,"o":7605.6,"h":7608.5,"l":7605.0,"c":7607.3},
{"i":460,"o":7606.8,"h":7613.8,"l":7573.6,"c":7584.9},
{"i":461,"o":7584.5,"h":7596.2,"l":7583.8,"c":7594.0},
{"i":462,"o":7592.5,"h":7594.0,"l":7586.0,"c":7587.4},
{"i":463,"o":7588.9,"h":7590.0,"l":7584.2,"c":7586.0},
{"i":464,"o":7587.4,"h":7591.0,"l":7577.0,"c":7578.3},
{"i":465,"o":7578.3,"h":7580.0,"l":7561.1,"c":7569.2},
{"i":466,"o":7573.6,"h":7576.0,"l":7567.0,"c":7569.2},
{"i":467,"o":7578.7,"h":7583.1,"l":7565.0,"c":7573.6},
{"i":468,"o":7572.1,"h":7587.4,"l":7570.0,"c":7582.0},
{"i":469,"o":7582.0,"h":7587.4,"l":7581.0,"c":7586.7},
{"i":470,"o":7586.7,"h":7587.0,"l":7581.5,"c":7582.3},
{"i":471,"o":7581.9,"h":7583.0,"l":7572.5,"c":7573.6},
{"i":472,"o":7574.3,"h":7575.0,"l":7570.0,"c":7571.4},
{"i":473,"o":7572.5,"h":7573.0,"l":7550.9,"c":7551.6},
{"i":474,"o":7558.2,"h":7560.0,"l":7543.0,"c":7544.3},
{"i":475,"o":7544.5,"h":7545.0,"l":7535.0,"c":7541.5},
{"i":476,"o":7533.4,"h":7544.3,"l":7529.7,"c":7542.1},
{"i":477,"o":7542.5,"h":7543.5,"l":7530.4,"c":7533.4},
{"i":478,"o":7530.4,"h":7536.0,"l":7529.7,"c":7533.7},
{"i":479,"o":7533.4,"h":7543.0,"l":7529.0,"c":7541.4},
{"i":480,"o":7541.4,"h":7545.0,"l":7540.5,"c":7543.6},
{"i":481,"o":7543.6,"h":7547.6,"l":7541.4,"c":7545.4},
{"i":482,"o":7545.4,"h":7550.2,"l":7544.0,"c":7544.7},
{"i":483,"o":7544.7,"h":7550.2,"l":7540.0,"c":7541.4},
{"i":484,"o":7540.3,"h":7541.0,"l":7526.0,"c":7534.1},
{"i":485,"o":7534.1,"h":7540.5,"l":7533.5,"c":7539.9},
{"i":486,"o":7534.8,"h":7543.0,"l":7533.7,"c":7541.8},
{"i":487,"o":7542.1,"h":7545.0,"l":7539.2,"c":7543.9},
{"i":488,"o":7543.9,"h":7547.3,"l":7543.0,"c":7545.8},
{"i":489,"o":7545.2,"h":7546.0,"l":7543.9,"c":7545.7}
]
},
"layer": [
{
 "data": {"name": "levels"},
 "transform": [{"filter": "datum.g != 'cur'"}],
 "mark": {"type": "rule", "strokeWidth": 1},
 "encoding": {
  "y": {"field": "p", "type": "quantitative", "scale": {"domain": [7389.76, 7642.09], "nice": false, "zero": false}, "axis": null},
  "color": {"field": "g", "type": "nominal", "scale": {"domain": ["p2","p1","b","o","r","g","cur"], "range": ["#B8228B","#F01EF0","#1E90FF","#F7941D","#F4511E","#556B2F","#000000"]}, "legend": null},
  "strokeDash": {"field": "g", "type": "nominal", "scale": {"domain": ["p2","p1","b","o","r","g"], "range": [[10,5,3,5],[10,5,3,5],[16,8],[10,5,3,5],[10,5,3,5],[10,5,3,5]]}, "legend": null}
 }
},
{
 "data": {"name": "levels"},
 "transform": [{"filter": "datum.g == 'cur'"}],
 "mark": {"type": "rule", "strokeWidth": 1, "color": "#c0c0c0"},
 "encoding": {
  "y": {"field": "p", "type": "quantitative", "scale": {"domain": [7389.76, 7642.09], "nice": false, "zero": false}, "axis": null}
 }
},
{
 "data": {"name": "levels"},
 "transform": [{"filter": "datum.g != 'cur'"}],
 "mark": {"type": "text", "font": "Liberation Sans", "fontSize": 18, "align": "center", "baseline": "top", "dy": 2},
 "encoding": {
  "x": {"datum": 462.7, "type": "quantitative", "scale": {"domain": [-0.68, 983.4], "nice": false, "zero": false}, "axis": null},
  "y": {"field": "p", "type": "quantitative", "scale": {"domain": [7389.76, 7642.09], "nice": false, "zero": false}, "axis": null},
  "text": {"field": "t"},
  "color": {"field": "g", "type": "nominal", "scale": {"domain": ["p2","p1","b","o","r","g","cur"], "range": ["#B8228B","#F01EF0","#1E90FF","#F7941D","#F4511E","#556B2F","#000000"]}, "legend": null}
 }
},
{
 "data": {"name": "candles"},
 "mark": {"type": "rule", "color": "#000000", "strokeWidth": 1},
 "encoding": {
  "x": {"field": "i", "type": "quantitative", "scale": {"domain": [-0.68, 983.4], "nice": false, "zero": false},
        "axis": {"orient": "bottom", "values": [20,40,60,80,100,120,140,160,180,200,220,240,260,280,300,320,340,360,380,400,420,440,460,480,500,520,540,560,580,600,620,640,660,680,700,720,740,760,780,800,820,840,860,880,900,920,940,960,980], "grid": true, "labels": false, "ticks": false, "domain": false, "title": null}},
  "y": {"field": "l", "type": "quantitative", "scale": {"domain": [7389.76, 7642.09], "nice": false, "zero": false},
        "axis": {"orient": "right", "values": [7396,7406,7416,7426,7436,7446,7456,7466,7476,7486,7496,7506,7516,7526,7536,7546,7556,7566,7576,7586,7596,7606,7616,7626,7636], "format": ".1f", "grid": true, "title": null, "tickSize": 4, "labelPadding": 4, "domain": true, "labelFlush": false, "labelOverlap": false, "labelBound": false}},
  "y2": {"field": "h"}
 }
},
{
 "data": {"name": "candles"},
 "mark": {"type": "bar", "width": 2.6, "stroke": "#000000", "strokeWidth": 0.8},
 "encoding": {
  "x": {"field": "i", "type": "quantitative", "scale": {"domain": [-0.68, 983.4], "nice": false, "zero": false},
        "axis": {"orient": "bottom", "values": [0,40,80,120,160,200,240,280,320,360,400,440,480], "grid": false, "title": null, "labelExpr": "['20 May 2026','21 May 18:30','22 May 14:30','25 May 10:30','26 May 10:30','27 May 06:30','28 May 02:30','28 May 21:30','29 May 17:30','1 Jun 13:30','2 Jun 09:30','3 Jun 05:30','4 Jun 01:30'][round(datum.value/40)]", "labelAlign": "left", "labelBaseline": "top", "tickSize": 4, "labelPadding": 3, "labelOffset": 1, "domain": true, "labelFlush": false, "labelOverlap": false, "labelBound": false}},
  "y": {"field": "o", "type": "quantitative", "scale": {"domain": [7389.76, 7642.09], "nice": false, "zero": false}, "axis": null},
  "y2": {"field": "c"},
  "fill": {"condition": {"test": "datum.c >= datum.o", "value": "#ffffff"}, "value": "#000000"}
 }
},
{
 "data": {"name": "pink"},
 "mark": {"type": "line", "color": "#D98AD0", "strokeWidth": 6, "strokeCap": "butt"},
 "encoding": {
  "x": {"field": "i", "type": "quantitative", "scale": {"domain": [-0.68, 983.4], "nice": false, "zero": false}, "axis": null},
  "y": {"field": "p", "type": "quantitative", "scale": {"domain": [7389.76, 7642.09], "nice": false, "zero": false}, "axis": null},
  "detail": {"field": "s"}
 }
},
{
 "data": {"name": "arrows"},
 "transform": [{"filter": "datum.k == 'solid'"}],
 "mark": {"type": "line", "color": "#EF4444", "strokeWidth": 5, "strokeCap": "round"},
 "encoding": {
  "x": {"field": "i", "type": "quantitative", "scale": {"domain": [-0.68, 983.4], "nice": false, "zero": false}, "axis": null},
  "y": {"field": "p", "type": "quantitative", "scale": {"domain": [7389.76, 7642.09], "nice": false, "zero": false}, "axis": null},
  "detail": {"field": "s"}
 }
},
{
 "data": {"name": "arrows"},
 "transform": [{"filter": "datum.k == 'dash'"}],
 "mark": {"type": "line", "color": "#EF4444", "strokeWidth": 5, "strokeCap": "round", "strokeDash": [9, 11]},
 "encoding": {
  "x": {"field": "i", "type": "quantitative", "scale": {"domain": [-0.68, 983.4], "nice": false, "zero": false}, "axis": null},
  "y": {"field": "p", "type": "quantitative", "scale": {"domain": [7389.76, 7642.09], "nice": false, "zero": false}, "axis": null},
  "detail": {"field": "s"}
 }
},
{
 "data": {"name": "heads"},
 "transform": [{"filter": "datum.d == 'down'"}],
 "mark": {"type": "point", "shape": "triangle-up", "filled": true, "color": "#EF4444", "opacity": 1, "size": 360, "angle": 160},
 "encoding": {
  "x": {"field": "i", "type": "quantitative", "scale": {"domain": [-0.68, 983.4], "nice": false, "zero": false}, "axis": null},
  "y": {"field": "p", "type": "quantitative", "scale": {"domain": [7389.76, 7642.09], "nice": false, "zero": false}, "axis": null}
 }
},
{
 "data": {"name": "heads"},
 "transform": [{"filter": "datum.d == 'up'"}],
 "mark": {"type": "point", "shape": "triangle-up", "filled": true, "color": "#EF4444", "opacity": 1, "size": 360, "angle": 15},
 "encoding": {
  "x": {"field": "i", "type": "quantitative", "scale": {"domain": [-0.68, 983.4], "nice": false, "zero": false}, "axis": null},
  "y": {"field": "p", "type": "quantitative", "scale": {"domain": [7389.76, 7642.09], "nice": false, "zero": false}, "axis": null}
 }
},
{
 "data": {"name": "levels"},
 "mark": {"type": "tick", "orient": "horizontal", "size": 62, "thickness": 19, "opacity": 1},
 "encoding": {
  "x": {"datum": 992, "type": "quantitative", "scale": {"domain": [-0.68, 983.4], "nice": false, "zero": false}, "axis": null},
  "y": {"field": "p", "type": "quantitative", "scale": {"domain": [7389.76, 7642.09], "nice": false, "zero": false}, "axis": null},
  "color": {"field": "g", "type": "nominal", "scale": {"domain": ["p2","p1","b","o","r","g","cur"], "range": ["#B8228B","#F01EF0","#1E90FF","#F7941D","#F4511E","#556B2F","#000000"]}, "legend": null}
 }
},
{
 "data": {"name": "levels"},
 "mark": {"type": "text", "color": "#ffffff", "font": "DejaVu Sans Condensed, DejaVu Sans", "fontSize": 16.5, "align": "center", "baseline": "middle", "dy": 1},
 "encoding": {
  "x": {"datum": 992, "type": "quantitative", "scale": {"domain": [-0.68, 983.4], "nice": false, "zero": false}, "axis": null},
  "y": {"field": "p", "type": "quantitative", "scale": {"domain": [7389.76, 7642.09], "nice": false, "zero": false}, "axis": null},
  "text": {"field": "p", "type": "quantitative", "format": ".1f"}
 }
},
{
 "data": {"values": [{"t": "▼"}]},
 "mark": {"type": "text", "color": "#000000", "font": "DejaVu Sans", "fontSize": 9, "align": "left", "baseline": "middle"},
 "encoding": {
  "x": {"datum": 0.9, "type": "quantitative", "scale": {"domain": [-0.68, 983.4], "nice": false, "zero": false}, "axis": null},
  "y": {"datum": 7640.9, "type": "quantitative", "scale": {"domain": [7389.76, 7642.09], "nice": false, "zero": false}, "axis": null},
  "text": {"field": "t"}
 }
},
{
 "data": {"values": [{"t": "US500,M30  7545.2 7546.0 7543.9 7545.7"}]},
 "mark": {"type": "text", "color": "#000000", "font": "DejaVu Sans Condensed, DejaVu Sans", "fontSize": 15.5, "align": "left", "baseline": "middle"},
 "encoding": {
  "x": {"datum": 5.9, "type": "quantitative", "scale": {"domain": [-0.68, 983.4], "nice": false, "zero": false}, "axis": null},
  "y": {"datum": 7640.9, "type": "quantitative", "scale": {"domain": [7389.76, 7642.09], "nice": false, "zero": false}, "axis": null},
  "text": {"field": "t"}
 }
}
]
}
